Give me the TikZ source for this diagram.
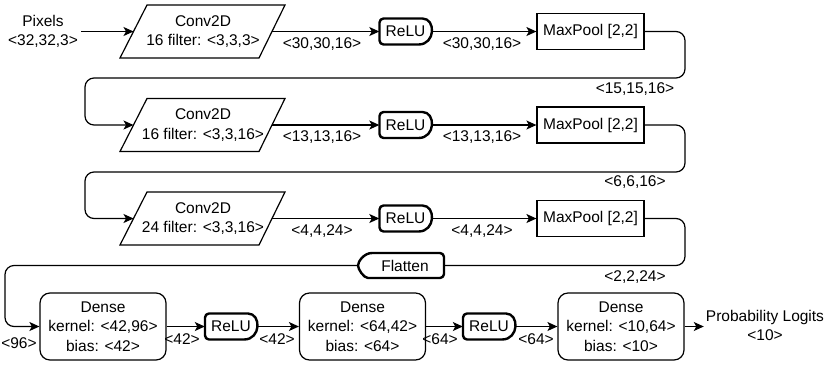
\documentclass[tikz,border=0pt]{standalone}
\usepackage{fontspec}
\setmainfont{Liberation Sans}
\usetikzlibrary{arrows.meta,calc}
\newcommand\fs{\fontsize{15.5}{19.5}\selectfont}
\tikzset{
 ln/.style={line width=1.2pt},
 arr/.style={ln,-{Stealth[length=10pt,width=9pt,inset=2.5pt]}},
 thk/.style={line width=2.4pt, line join=round},
 txt/.style={inner sep=0pt, align=center, font=\fs},
 lbl/.style={inner sep=0pt, font=\fs},
 mp/.style={draw, ln, minimum width=107pt, minimum height=36pt, inner sep=0pt, font=\fs},
 dense/.style={draw, ln, rounded corners=10pt, minimum width=126pt, minimum height=67pt, align=center, inner sep=0pt, font=\fs},
 relutxt/.style={minimum width=52pt, minimum height=26pt, inner sep=0pt, font=\fs},
}
\newcommand\convbox[3]{%
 \node[txt] (#1) at (203,#2) {Conv2D\\#3};
 \begin{scope}[shift={(203,#2)}]
  \draw[ln] (-56,-26.5) -- (82,-26.5) -- (56,26.5) -- (-83,26.5) -- cycle;
  \coordinate (#1w) at (-69.5,0);
  \coordinate (#1e) at (69,0);
 \end{scope}}
\newcommand\relubox[3]{%
 \node[relutxt] (#1) at (#2,#3) {ReLU};
 \draw[thk,shift={(#2,#3)}] (-26,0) [rounded corners=4pt] -- (-26,-13) -- (13,-13) [sharp corners] .. controls (30.3,-13) and (30.3,13) .. (13,13) [rounded corners=4pt] -- (-26,13) -- cycle;}
\begin{document}
\begin{tikzpicture}[x=1pt,y=-1pt]
\useasboundingbox (0,0) rectangle (827,365);
% row 1
\node[txt, inner sep=3pt] (pix) at (43,31.5) {Pixels\\<32,32,3>};
\convbox{conv1}{31.5}{16 filter: <3,3,3>}
\relubox{relu1}{405.5}{31.5}
\node[mp] (mp1) at (590.5,31.5) {MaxPool [2,2]};
\draw[arr] (pix.east) -- (conv1w);
\draw[arr] (conv1e) -- (relu1.west);
\draw[arr] (relu1.east) -- (mp1.west);
\node[lbl] (la1) at (322,44) {<30,30,16>};
\node[lbl] (lb1) at (482,44) {<30,30,16>};
% row 2
\convbox{conv2}{125}{16 filter: <3,3,16>}
\relubox{relu2}{405.5}{125}
\node[mp] (mp2) at (590.5,125) {MaxPool [2,2]};
\draw[arr, rounded corners=9pt] (mp1.east) -- (685,31.5) -- (685,78) -- (85,78) -- (85,125) -- (conv2w);
\node[lbl] (lc1) at (635,89) {<15,15,16>};
\draw[arr] (conv2e) -- (relu2.west);
\draw[arr] (relu2.east) -- (mp2.west);
\node[lbl] (la2) at (322,137.5) {<13,13,16>};
\node[lbl] (lb2) at (482,137.5) {<13,13,16>};
% row 3
\convbox{conv3}{218.5}{24 filter: <3,3,16>}
\relubox{relu3}{405.5}{218.5}
\node[mp] (mp3) at (590.5,218.5) {MaxPool [2,2]};
\draw[arr, rounded corners=9pt] (mp2.east) -- (685,125) -- (685,172) -- (85,172) -- (85,218.5) -- (conv3w);
\node[lbl] (lc2) at (635,182) {<6,6,16>};
\draw[arr] (conv3e) -- (relu3.west);
\draw[arr] (relu3.east) -- (mp3.west);
\node[lbl] (la3) at (322,231) {<4,4,24>};
\node[lbl] (lb3) at (482,231) {<4,4,24>};
% flatten
\node[relutxt, minimum width=86pt, minimum height=25pt] (flat) at (401,265.5) {\hspace{8pt}Flatten};
\draw[thk, shift={(401,265.5)}] (-29,-12.5) [rounded corners=4pt] -- (43,-12.5) -- (43,12.5) -- (-29,12.5) [sharp corners] .. controls (-37,12.5) and (-43,4) .. (-43,0) .. controls (-43,-4) and (-37,-12.5) .. (-29,-12.5) -- cycle;
\draw[ln, rounded corners=9pt] (mp3.east) -- (685,218.5) -- (685,265.5) -- (flat.east);
\node[lbl] (lc3) at (635,277) {<2,2,24>};
% row 4
\node[dense] (d1) at (103,326.5) {Dense\\kernel: <42,96>\\bias: <42>};
\relubox{relu4}{231}{326.5}
\node[dense] (d2) at (362.5,326.5) {Dense\\kernel: <64,42>\\bias: <64>};
\relubox{relu5}{489}{326.5}
\node[dense] (d3) at (621,326.5) {Dense\\kernel: <10,64>\\bias: <10>};
\node[txt, inner sep=2pt] (prob) at (765,325.5) {Probability Logits\\<10>};
\draw[arr, rounded corners=9pt] (flat.west) -- (5,265.5) -- (5,326.5) -- (d1.west);
\node[lbl] (l96) at (19,343) {<96>};
\draw[arr] (d1.east) -- (relu4.west);
\draw[arr] (relu4.east) -- (d2.west);
\draw[arr] (d2.east) -- (relu5.west);
\draw[arr] (relu5.east) -- (d3.west);
\draw[arr] (d3.east) -- (prob.west |- d3.east);
\node[lbl] (l42a) at (182,339) {<42>};
\node[lbl] (l42b) at (277,339) {<42>};
\node[lbl] (l64a) at (440,339) {<64>};
\node[lbl] (l64b) at (536,339) {<64>};
\end{tikzpicture}
\end{document}
